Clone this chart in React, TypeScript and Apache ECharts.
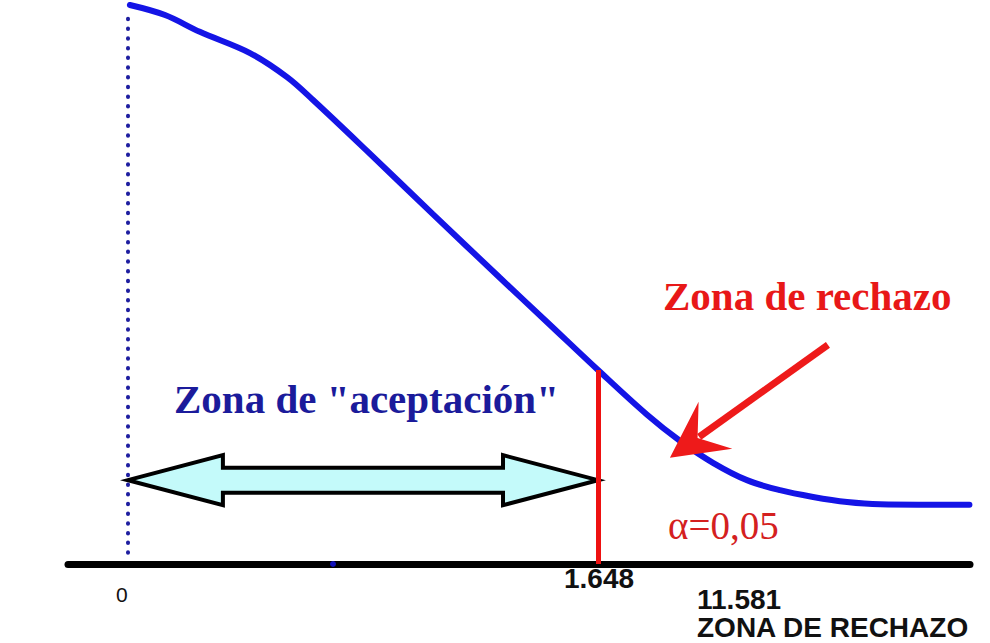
import React, { useEffect, useRef } from "react";
import * as echarts from "echarts";

// ---- data ----
const curveX = [0.007, 0.13, 0.252, 0.428, 0.558, 0.649, 0.838, 1.069, 1.304, 1.469, 1.648, 1.82, 1.936, 2.051, 2.17, 2.286, 2.402, 2.521, 2.637, 2.95];
const curveY = [1.0, 0.982, 0.952, 0.914, 0.871, 0.83, 0.739, 0.626, 0.512, 0.433, 0.347, 0.267, 0.22, 0.181, 0.15, 0.132, 0.12, 0.111, 0.107, 0.106];
const xRange = [-0.21, 2.952];
const originValue = 0;
const criticalValue = 1.648;
const criticalHeight = 0.347;
const originLabel = "0";
const criticalLabel = "1.648";
const statLabel = "11.581";
const rejectLabel = "ZONA DE RECHAZO";
const acceptTitle = 'Zona de "aceptación"';
const rejectTitle = "Zona de rechazo";
const alphaLabel = "α=0,05";
const acceptArrowY = 0.15;
const dottedSpan = [0.02, 0.99];
const pointerFrom = [2.454, 0.392];
const pointerTo = [1.9, 0.19];
const markerDot = [0.719, 0];

export default function App() {
  const ref = useRef<HTMLDivElement>(null);
  useEffect(() => {
    if (!ref.current) return;
    const chart = echarts.init(ref.current, null, { renderer: "svg" });
    const serif = "'Liberation Serif', 'Times New Roman', serif";
    const sans = "'Liberation Sans', Arial, sans-serif";
    const txt = (x: number, y: number, text: string, size: number, family: string, weight: string, fill: string, lineHeight?: number) => ({
      type: "text",
      x,
      y,
      style: {
        text,
        fontSize: size,
        fontFamily: family,
        fontWeight: weight,
        fill,
        verticalAlign: "middle",
        lineHeight: lineHeight || size,
      },
    });
    chart.setOption({
      animation: false,
      backgroundColor: "#ffffff",
      grid: { left: 68, right: 20, top: 5, bottom: 79, containLabel: false },
      xAxis: {
        type: "value",
        min: xRange[0],
        max: xRange[1],
        axisLine: { show: true, lineStyle: { color: "#000", width: 7 } },
        axisTick: { show: false },
        axisLabel: { show: false },
        splitLine: { show: false },
      },
      yAxis: {
        type: "value",
        min: 0,
        max: 1,
        show: false,
        splitLine: { show: false },
      },
      series: [
        {
          type: "custom",
          data: [[originValue, criticalValue, acceptArrowY]],
          encode: { x: [0, 1], y: 2 },
          z: 3,
          renderItem: (params: any, api: any) => {
            const a = api.coord([api.value(0), api.value(2)]);
            const b = api.coord([api.value(1), api.value(2)]);
            const hl = 95, hh = 25, sh = 12.5;
            const y = a[1];
            const pts = [
              [a[0], y],
              [a[0] + hl, y - hh],
              [a[0] + hl, y - sh],
              [b[0] - hl, y - sh],
              [b[0] - hl, y - hh],
              [b[0], y],
              [b[0] - hl, y + hh],
              [b[0] - hl, y + sh],
              [a[0] + hl, y + sh],
              [a[0] + hl, y + hh],
            ];
            return {
              type: "polygon",
              shape: { points: pts },
              style: { fill: "#c4fafa", stroke: "#000", lineWidth: 4, lineJoin: "miter" },
            };
          },
        },
        {
          type: "custom",
          data: [[pointerFrom[0], pointerFrom[1], pointerTo[0], pointerTo[1]]],
          encode: { x: [0, 2], y: [1, 3] },
          z: 6,
          renderItem: (params: any, api: any) => {
            const s = api.coord([api.value(0), api.value(1)]);
            const t = api.coord([api.value(2), api.value(3)]);
            const dx = t[0] - s[0], dy = t[1] - s[1];
            const len = Math.sqrt(dx * dx + dy * dy);
            const ux = dx / len, uy = dy / len;
            const nx = -uy, ny = ux;
            const headLen = 56, headHalf = 29, notch = 34;
            const back = [t[0] - ux * headLen, t[1] - uy * headLen];
            const nb = [t[0] - ux * notch, t[1] - uy * notch];
            return {
              type: "group",
              children: [
                {
                  type: "line",
                  shape: { x1: s[0], y1: s[1], x2: nb[0] - ux * 2, y2: nb[1] - uy * 2 },
                  style: { stroke: "#ee1a1a", lineWidth: 7 },
                },
                {
                  type: "polygon",
                  shape: {
                    points: [
                      [t[0], t[1]],
                      [back[0] + nx * headHalf, back[1] + ny * headHalf],
                      [nb[0], nb[1]],
                      [back[0] - nx * headHalf, back[1] - ny * headHalf],
                    ],
                  },
                  style: { fill: "#ee1a1a" },
                },
              ],
            };
          },
        },
        {
          type: "line",
          data: curveX.map((x, i) => [x, curveY[i]]),
          smooth: 0.35,
          showSymbol: false,
          symbol: "none",
          z: 4,
          lineStyle: { color: "#1414e6", width: 6, cap: "round" },
          markLine: {
            silent: true,
            symbol: ["none", "none"],
            label: { show: false },
            data: [
              [
                { coord: [originValue, dottedSpan[0]], lineStyle: { color: "#1e1ea0", width: 4, type: [0.5, 9.2], cap: "round" } },
                { coord: [originValue, dottedSpan[1]] },
              ],
              [
                { coord: [criticalValue, 0], lineStyle: { color: "#ee1111", width: 5, type: "solid" } },
                { coord: [criticalValue, criticalHeight] },
              ],
            ],
          },
        },
        {
          type: "scatter",
          data: [markerDot],
          symbolSize: 6,
          itemStyle: { color: "#1414e6" },
          z: 5,
        },
      ],
      graphic: [
        txt(116, 594, originLabel, 21, sans, "normal", "#111"),
        txt(564, 578, criticalLabel, 28, sans, "bold", "#111", 22),
        txt(697, 599, statLabel, 28, sans, "bold", "#111", 22),
        txt(697, 627, rejectLabel, 28, sans, "bold", "#111", 22),
        txt(663, 296, rejectTitle, 41, serif, "bold", "#e81818"),
        txt(174, 399, acceptTitle, 41, serif, "bold", "#1b1b9b"),
        txt(668, 525, alphaLabel, 39, serif, "normal", "#d42020"),
      ],
    });
    return () => chart.dispose();
  }, []);
  return <div ref={ref} style={{ position: "fixed", left: 0, top: 0, width: 990, height: 643 }} />;
}
